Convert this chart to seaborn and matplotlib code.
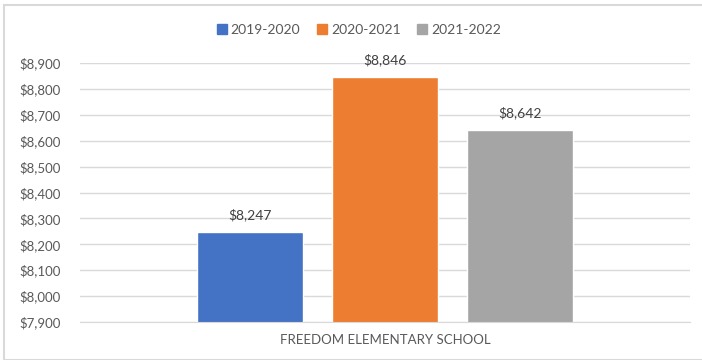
import numpy as np
import pandas as pd
import seaborn as sns
import matplotlib.pyplot as plt
from matplotlib.patches import Rectangle

sns.set_style('white')
plt.rcParams['font.family'] = ['Lato', 'DejaVu Sans']

# data
school = ['FREEDOM ELEMENTARY SCHOOL']
years = ['2019-2020', '2020-2021', '2021-2022']
values = [8247, 8846, 8642]
colors = ['#4472C4', '#ED7D31', '#A5A5A5']

df = pd.DataFrame({'school': school * 3, 'year': years, 'value': values})

fig = plt.figure(figsize=(7.02, 3.6), dpi=100)
ax = fig.add_axes([80/702, 1 - 322/360, 610/702, (322 - 63)/360])

sns.barplot(data=df, x='school', y='value', hue='year', palette=colors,
            width=0.664, gap=0.21, ax=ax, legend=True, saturation=1)

ax.set_ylim(7900, 8900)
ax.set_xlim(-0.5, 0.5)
ax.set_yticks(np.arange(7900, 8901, 100))
ax.set_yticklabels(['${:,}'.format(v) for v in range(7900, 8901, 100)])
ax.yaxis.grid(True, color='#D9D9D9', linewidth=1)
ax.set_axisbelow(True)
for s in ['top', 'right', 'left']:
    ax.spines[s].set_visible(False)
ax.spines['bottom'].set_color('#D9D9D9')
ax.tick_params(axis='both', length=0, labelsize=9.5, labelcolor='#595959')
ax.tick_params(axis='y', pad=14)
ax.tick_params(axis='x', pad=9)
ax.set_xlabel('')
ax.set_ylabel('')

for c in ax.containers:
    ax.bar_label(c, labels=['${:,}'.format(int(v)) for v in c.datavalues],
                 padding=8, fontsize=10, color='#404040')

ax.get_legend().remove()
handles = [Rectangle((0, 0), 1, 1, color=c) for c in colors]
fig.legend(handles, years, loc='center', bbox_to_anchor=(359/702, 1 - 30/360),
           ncol=3, frameon=False, fontsize=10, handlelength=0.7, handleheight=0.7,
           handletextpad=0.3, columnspacing=1.2, labelcolor='#595959')

fig.patches.append(Rectangle((4/702, 0), 1, 1 - 5/360, transform=fig.transFigure,
                             fill=False, edgecolor='#D9D9D9', linewidth=1.5))

fig.savefig('out.png', dpi=100)
